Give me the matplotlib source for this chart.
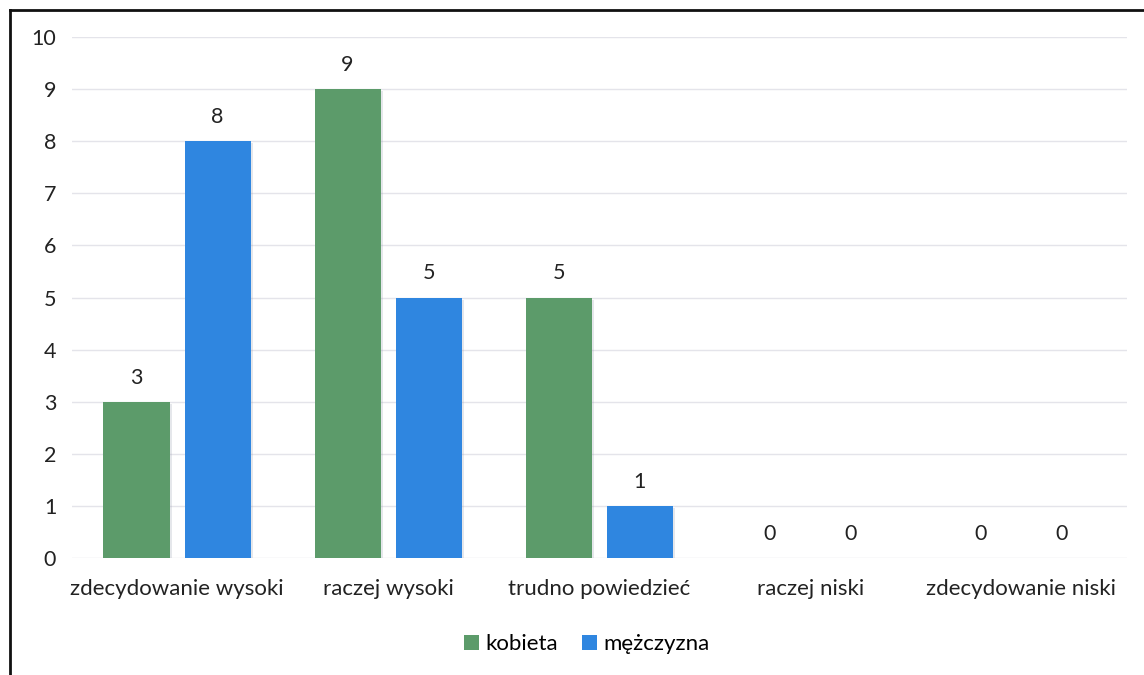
import matplotlib
matplotlib.use("Agg")
import matplotlib.pyplot as plt
from matplotlib.lines import Line2D
import numpy as np

categories = ["zdecydowanie wysoki", "raczej wysoki", "trudno powiedzieć",
              "raczej niski", "zdecydowanie niski"]
kobieta = [3, 9, 5, 0, 0]
mezczyzna = [8, 5, 1, 0, 0]
series_names = ["kobieta", "mężczyzna"]
y_ticks = list(range(0, 11))

green = "#5c9b6a"
blue = "#2f86e0"

plt.rcParams["font.family"] = ["Lato", "DejaVu Sans"]

W, H = 1144, 675
fig = plt.figure(figsize=(W / 100, H / 100), dpi=100)
ax = fig.add_axes([71.5 / W, 1 - 558 / H, (1127 - 71.5) / W, (558 - 37) / H])

x = np.arange(len(categories))
bw = 0.313
off = 0.192

def bars_with_shadow(xpos, vals, color, label):
    # soft drop shadow to the right/bottom of each bar
    for v, xx in zip(vals, xpos):
        if v > 0:
            ax.bar(xx + 0.012, v, bw, bottom=-0.04, color="#9aa0b0", alpha=0.25,
                   zorder=1, linewidth=0)
    return ax.bar(xpos, vals, bw, color=color, label=label, zorder=2, linewidth=0)

b1 = bars_with_shadow(x - off, kobieta, green, series_names[0])
b2 = bars_with_shadow(x + off, mezczyzna, blue, series_names[1])

for bars, vals in ((b1, kobieta), (b2, mezczyzna)):
    for rect, v in zip(bars, vals):
        ax.text(rect.get_x() + rect.get_width() / 2, v + 0.27, f"{v}",
                ha="center", va="bottom", fontsize=15.5, color="#222222")

ax.set_xlim(-0.5, len(categories) - 0.5)
ax.set_ylim(0, 10)
ax.set_yticks(y_ticks)
ax.set_xticks(x)
ax.set_xticklabels(categories, fontsize=16, color="#222222")
ax.tick_params(axis="y", labelsize=15.5, labelcolor="#222222", length=0, pad=11)
ax.tick_params(axis="x", length=0, pad=15)
ax.grid(axis="y", color="#e4e4ea", linewidth=1)
ax.set_axisbelow(True)
for s in ax.spines.values():
    s.set_visible(False)

leg = fig.legend(handles=[b1, b2], labels=series_names, loc="center",
                 bbox_to_anchor=(587 / W, 1 - 644 / H), ncol=2, frameon=False,
                 fontsize=16, handlelength=0.65, handleheight=0.65,
                 handletextpad=0.3, columnspacing=1.1)

# outer frame (left and top edges visible)
fig.add_artist(Line2D([10 / W, 10 / W], [0, 1 - 10 / H], transform=fig.transFigure,
                      color="#111111", linewidth=2))
fig.add_artist(Line2D([10 / W, 1], [1 - 10 / H, 1 - 10 / H], transform=fig.transFigure,
                      color="#111111", linewidth=2))

fig.savefig("out.png", dpi=100, facecolor="white")
